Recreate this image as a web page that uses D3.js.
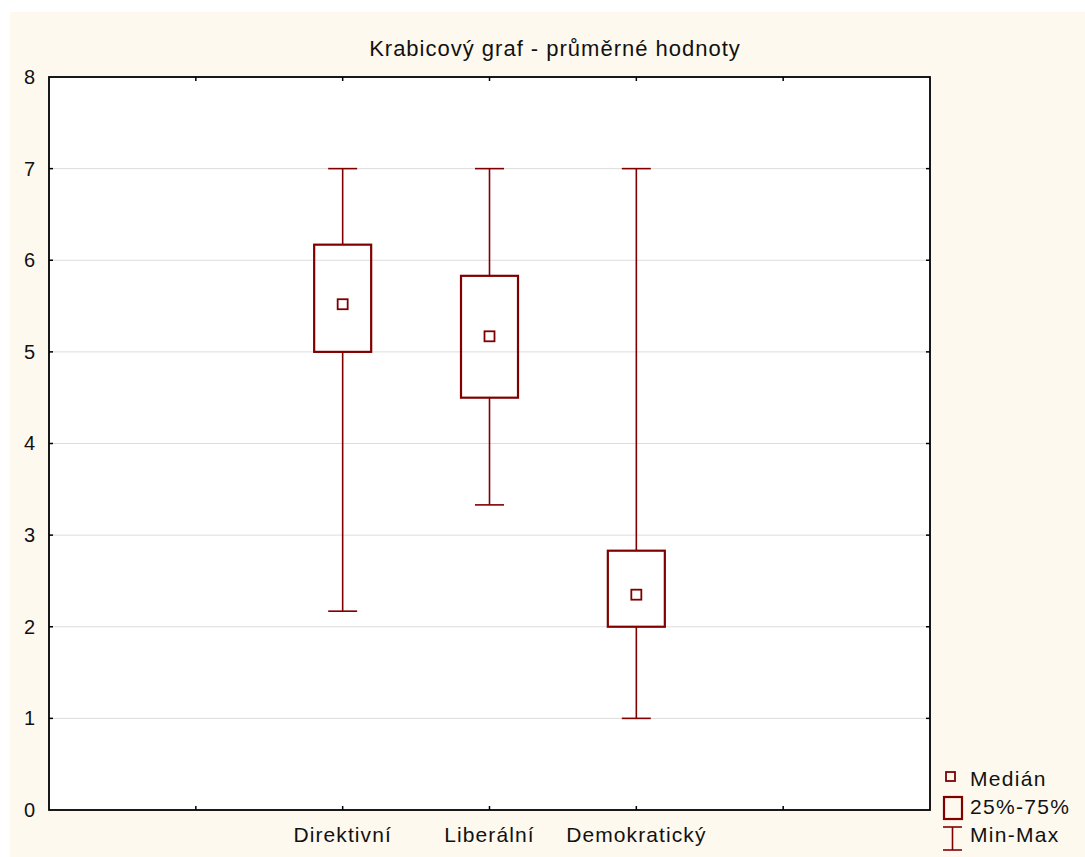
<!DOCTYPE html>
<html>
<head>
<meta charset="utf-8">
<script src="https://cdn.jsdelivr.net/npm/d3@7"></script>
<style>
  body { margin: 0; background: #ffffff; }
  svg text { font-family: "Liberation Sans", Arial, sans-serif; fill: #111; }
</style>
</head>
<body>
<svg id="chart"></svg>
<script>
const w = 1085;
const h = 857;

// data
const categories = ["Direktivní", "Liberální", "Demokratický"];
const catPos = [2, 3, 4];
const minVals = [2.17, 3.33, 1.0];
const q1Vals = [5.0, 4.5, 2.0];
const medianVals = [5.52, 5.17, 2.35];
const q3Vals = [6.17, 5.83, 2.83];
const maxVals = [7, 7, 7];
const yTicks = [0, 1, 2, 3, 4, 5, 6, 7, 8];
const xTicks = [1, 2, 3, 4, 5];
const legendLabels = ["Medián", "25%-75%", "Min-Max"];

const color = "#800000";

const plotL = 49, plotR = 930, plotT = 77, plotB = 810;

const svg = d3.select("#chart")
    .attr("width", w)
    .attr("height", h);

svg.append("rect")
    .attr("x", 10).attr("y", 12)
    .attr("width", w - 10).attr("height", h - 12)
    .attr("fill", "#fef9ee");

svg.append("rect")
    .attr("x", plotL).attr("y", plotT)
    .attr("width", plotR - plotL).attr("height", plotB - plotT)
    .attr("fill", "#ffffff");

const xScale = d3.scaleLinear().domain([0, 6]).range([plotL, plotR]);
const yScale = d3.scaleLinear().domain([0, 8]).range([plotB, plotT]);

// grid
svg.append("g")
    .selectAll("line")
    .data(yTicks.filter(d => d > 0 && d < 8))
    .enter()
    .append("line")
    .attr("x1", plotL).attr("x2", plotR)
    .attr("y1", d => yScale(d)).attr("y2", d => yScale(d))
    .attr("stroke", "#dcdcdc")
    .attr("stroke-width", 1);

// axes: inward ticks on all sides
const yAxis = d3.axisLeft(yScale).tickValues(yTicks).tickSize(0).tickPadding(14);
const gy = svg.append("g")
    .attr("transform", "translate(" + plotL + ",0)")
    .call(yAxis);
gy.select(".domain").remove();
gy.selectAll("text").attr("font-size", 20).attr("fill", "#111")
    .style("font-family", "'Liberation Sans', Arial, sans-serif");

const ticksG = svg.append("g").attr("stroke", "#000").attr("stroke-width", 1.5);
yTicks.filter(d => d > 0 && d < 8).forEach(d => {
  ticksG.append("line").attr("x1", plotL).attr("x2", plotL + 4).attr("y1", yScale(d)).attr("y2", yScale(d));
  ticksG.append("line").attr("x1", plotR - 4).attr("x2", plotR).attr("y1", yScale(d)).attr("y2", yScale(d));
});
xTicks.forEach(d => {
  ticksG.append("line").attr("x1", xScale(d)).attr("x2", xScale(d)).attr("y1", plotT).attr("y2", plotT + 4);
  ticksG.append("line").attr("x1", xScale(d)).attr("x2", xScale(d)).attr("y1", plotB - 4).attr("y2", plotB);
});

svg.append("g")
    .selectAll("text")
    .data(categories)
    .enter()
    .append("text")
    .attr("x", (d, i) => xScale(catPos[i]))
    .attr("y", 842)
    .attr("text-anchor", "middle")
    .attr("font-size", 21)
    .attr("letter-spacing", 1.1)
    .text(d => d);

// boxes
const boxW = 57, capW = 29, medS = 10;
const boxes = svg.append("g");
categories.forEach((c, i) => {
  const cx = xScale(catPos[i]);
  boxes.append("line")
      .attr("x1", cx).attr("x2", cx)
      .attr("y1", yScale(maxVals[i])).attr("y2", yScale(q3Vals[i]))
      .attr("stroke", color).attr("stroke-width", 1.6);
  boxes.append("line")
      .attr("x1", cx).attr("x2", cx)
      .attr("y1", yScale(q1Vals[i])).attr("y2", yScale(minVals[i]))
      .attr("stroke", color).attr("stroke-width", 1.6);
  [maxVals[i], minVals[i]].forEach(v => {
    boxes.append("line")
        .attr("x1", cx - capW / 2).attr("x2", cx + capW / 2)
        .attr("y1", yScale(v)).attr("y2", yScale(v))
        .attr("stroke", color).attr("stroke-width", 1.6);
  });
  boxes.append("rect")
      .attr("x", cx - boxW / 2).attr("y", yScale(q3Vals[i]))
      .attr("width", boxW).attr("height", yScale(q1Vals[i]) - yScale(q3Vals[i]))
      .attr("fill", "none").attr("stroke", color).attr("stroke-width", 2.2);
  boxes.append("rect")
      .attr("x", cx - medS / 2).attr("y", yScale(medianVals[i]) - medS / 2)
      .attr("width", medS).attr("height", medS)
      .attr("fill", "none").attr("stroke", color).attr("stroke-width", 1.8);
});

// frame
svg.append("rect")
    .attr("x", plotL).attr("y", plotT)
    .attr("width", plotR - plotL).attr("height", plotB - plotT)
    .attr("fill", "none").attr("stroke", "#000").attr("stroke-width", 1.8);

// title
svg.append("text")
    .attr("x", 555).attr("y", 56)
    .attr("text-anchor", "middle")
    .attr("font-size", 22)
    .attr("letter-spacing", 1.0)
    .text("Krabicový graf - průměrné hodnoty");

// legend
const lg = svg.append("g");
lg.append("rect").attr("x", 946).attr("y", 772).attr("width", 9).attr("height", 9)
    .attr("fill", "none").attr("stroke", color).attr("stroke-width", 1.8);
lg.append("rect").attr("x", 944).attr("y", 797).attr("width", 18).attr("height", 22)
    .attr("fill", "none").attr("stroke", color).attr("stroke-width", 2.2);
lg.append("line").attr("x1", 952.5).attr("x2", 952.5).attr("y1", 827).attr("y2", 850)
    .attr("stroke", color).attr("stroke-width", 1.6);
lg.append("line").attr("x1", 943).attr("x2", 962).attr("y1", 827).attr("y2", 827)
    .attr("stroke", color).attr("stroke-width", 1.6);
lg.append("line").attr("x1", 943).attr("x2", 962).attr("y1", 850).attr("y2", 850)
    .attr("stroke", color).attr("stroke-width", 1.6);
lg.selectAll("text.lbl")
    .data(legendLabels)
    .enter()
    .append("text")
    .attr("class", "lbl")
    .attr("x", 970)
    .attr("y", (d, i) => 786 + i * 28)
    .attr("font-size", 21)
    .attr("letter-spacing", 1.3)
    .text(d => d);
</script>
</body>
</html>
